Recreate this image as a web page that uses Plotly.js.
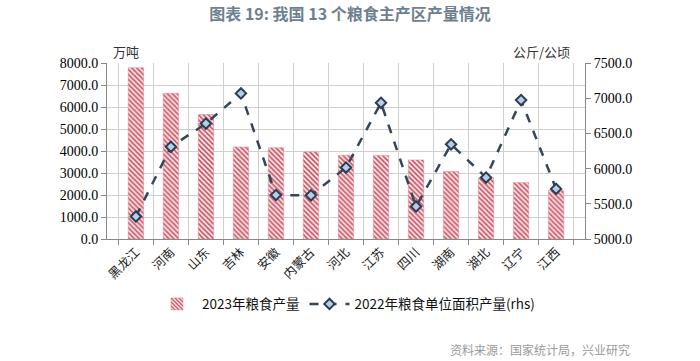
<!DOCTYPE html>
<html>
<head>
<meta charset="utf-8">
<script src="https://cdn.plot.ly/plotly-3.0.1.min.js"></script>
<style>html,body{margin:0;padding:0;background:#fff;}#chart{width:700px;height:361px;}</style>
</head>
<body>
<div id="chart"></div>
<script>
const provinces = ["黑龙江","河南","山东","吉林","安徽","内蒙古","河北","江苏","四川","湖南","湖北","辽宁","江西"];
const output2023 = [7788.2, 6624.3, 5655.3, 4186.5, 4150.8, 3957.8, 3809.9, 3797.7, 3593.8, 3068.0, 2777.0, 2563.4, 2204.0];
const yield2022 = [5320, 6310, 6640, 7068, 5625, 5620, 6015, 6935, 5462, 6345, 5873, 6973, 5712];
const leftTicks = [0,1000,2000,3000,4000,5000,6000,7000,8000];
const rightTicks = [5000,5500,6000,6500,7000,7500];

const serif = "Liberation Serif, Times New Roman, serif";
const cjk = "Noto Sans CJK SC, sans-serif";

const traces = [
  {
    type: "bar", x: provinces, y: output2023, name: "2023年粮食产量",
    marker: {color: "#fbe9ec", line: {color: "#d98b96", width: 0.5},
      pattern: {shape: "\\", fgcolor: "#c9505f", bgcolor: "#fbe9ec", size: 3.5, solidity: 0.45, fillmode: "replace"}},
    yaxis: "y"
  },
  {
    type: "scatter", mode: "lines+markers", x: provinces, y: yield2022, name: "2022年粮食单位面积产量(rhs)",
    line: {color: "#36465a", width: 2.5, dash: "dash"},
    marker: {symbol: "diamond", size: 8, color: "#b7cde6", line: {color: "#2c3c55", width: 2}},
    yaxis: "y2"
  }
];

const layout = {
  width: 700, height: 361,
  margin: {l: 107, r: 115, t: 63, b: 122},
  paper_bgcolor: "#fff", plot_bgcolor: "#fff",
  title: {text: "<b>图表 19: 我国 13 个粮食主产区产量情况</b>", font: {family: cjk, size: 16, color: "#6e7f90"}, x: 0.5, xanchor: "center", y: 0.975, yanchor: "top"},
  bargap: 0.56,
  showlegend: true,
  legend: {orientation: "h", x: 0.5, xanchor: "center", y: -0.37, yanchor: "middle", font: {family: cjk, size: 13.5, color: "#111"}, traceorder: "normal", itemwidth: 40},
  xaxis: {
    type: "category", tickangle: -45, tickfont: {family: cjk, size: 12.5, color: "#222"},
    showgrid: true, gridcolor: "#cfcfcf", gridwidth: 1, tickson: "boundaries",
    ticks: "outside", ticklen: 5, tickcolor: "#888",
    showline: true, linecolor: "#888", linewidth: 1, zeroline: false
  },
  yaxis: {
    range: [0, 8000], tickvals: leftTicks, tickformat: ".1f",
    tickfont: {family: serif, size: 14, color: "#000"},
    showgrid: true, gridcolor: "#cfcfcf", gridwidth: 1,
    ticks: "outside", ticklen: 5, tickcolor: "#888",
    showline: true, linecolor: "#888", linewidth: 1, zeroline: false
  },
  yaxis2: {
    overlaying: "y", side: "right", range: [5000, 7500], tickvals: rightTicks, tickformat: ".1f",
    tickfont: {family: serif, size: 14, color: "#000"},
    showgrid: false, ticks: "outside", ticklen: 5, tickcolor: "#888",
    showline: true, linecolor: "#888", linewidth: 1, zeroline: false
  },
  annotations: [
    {text: "万吨", xref: "paper", yref: "paper", x: 0.04, y: 1.0, xanchor: "center", yanchor: "bottom", showarrow: false, font: {family: cjk, size: 13, color: "#333"}},
    {text: "公斤/公顷", xref: "paper", yref: "paper", x: 0.91, y: 1.0, xanchor: "center", yanchor: "bottom", showarrow: false, font: {family: cjk, size: 13, color: "#333"}},
    {text: "资料来源：国家统计局，兴业研究", xref: "paper", yref: "paper", x: (632 - 107) / (700 - 107 - 115), xanchor: "right", y: (361 - 122 - 349) / (361 - 63 - 122), yanchor: "middle", showarrow: false, font: {family: cjk, size: 12, color: "#9a9a9a"}}
  ]
};

Plotly.newPlot("chart", traces, layout, {displayModeBar: false, staticPlot: true});
</script>
</body>
</html>
